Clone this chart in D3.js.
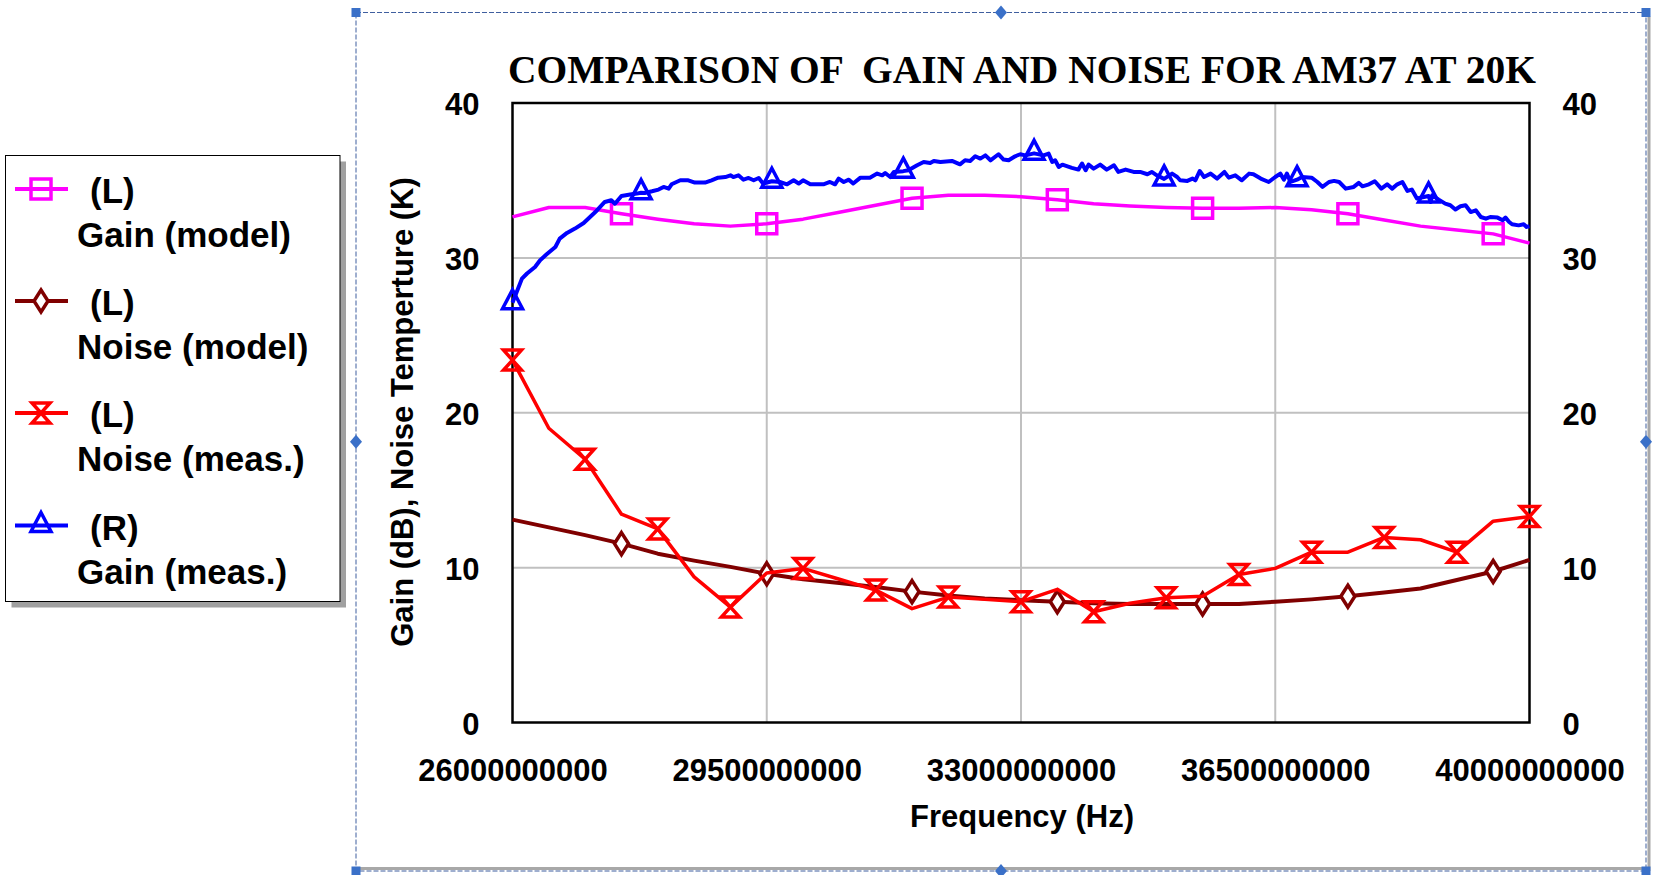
<!DOCTYPE html>
<html><head><meta charset="utf-8">
<script src="https://cdn.jsdelivr.net/npm/d3@7"></script>
<style>
body{margin:0;background:#fff;}
text{font-family:"Liberation Sans",Arial,sans-serif;font-weight:bold;fill:#000;}
</style>
</head><body>
<svg id="chart" width="1661" height="875"></svg>
<script>
// ---------------- data ----------------
const titleText = "COMPARISON OF  GAIN AND NOISE FOR AM37 AT 20K";
const xTitle = "Frequency (Hz)";
const yTitle = "Gain (dB), Noise Temperture (K)";

const xTicks = [26e9, 29.5e9, 33e9, 36.5e9, 40e9];
const xTickLabels = ["26000000000", "29500000000", "33000000000", "36500000000", "40000000000"];
const yTicks = [0, 10, 20, 30, 40];
const yTickLabels = ["0", "10", "20", "30", "40"];

const seriesNames = ["Gain (model)", "Noise (model)", "Noise (meas.)", "Gain (meas.)"];
const seriesAxis = ["(L)", "(L)", "(L)", "(R)"];

// frequency grid (GHz) for model curves and noise measurement
const modelFreqGHz = [26.0, 26.5, 27.0, 27.5, 28.0, 28.5, 29.0, 29.5, 30.0, 30.5, 31.0, 31.5, 32.0, 32.5,
  33.0, 33.5, 34.0, 34.5, 35.0, 35.5, 36.0, 36.5, 37.0, 37.5, 38.0, 38.5, 39.0, 39.5, 40.0];
const gainModel = [32.65, 33.25, 33.25, 32.85, 32.5, 32.2, 32.05, 32.2, 32.5, 32.95, 33.4, 33.85, 34.05, 34.05,
  33.95, 33.75, 33.5, 33.35, 33.25, 33.2, 33.2, 33.25, 33.1, 32.85, 32.45, 32.05, 31.8, 31.55, 30.95];
const noiseModel = [13.1, 12.6, 12.1, 11.55, 10.9, 10.45, 10.05, 9.6, 9.25, 9.0, 8.75, 8.45, 8.2, 8.0,
  7.9, 7.8, 7.7, 7.65, 7.65, 7.65, 7.65, 7.8, 7.95, 8.15, 8.4, 8.65, 9.2, 9.75, 10.5];
const noiseMeas = [23.4, 19.0, 17.0, 13.45, 12.5, 9.4, 7.45, 9.65, 9.95, 9.25, 8.55, 7.35, 8.1, 7.95,
  7.8, 8.6, 7.15, 7.7, 8.05, 8.15, 9.55, 9.95, 11.0, 11.0, 11.95, 11.8, 11.0, 13.0, 13.3];
const modelMarkerGHz = [27.5, 29.5, 31.5, 33.5, 35.5, 37.5, 39.5];
const noiseMeasMarkerGHz = [26, 27, 28, 29, 30, 31, 32, 33, 34, 35, 36, 37, 38, 39, 40];

// measured gain (right axis)
const gainMeasFreqGHz = [26.00, 26.13, 26.20, 26.31, 26.38, 26.47, 26.59, 26.65, 26.75, 26.86, 26.98, 27.14, 27.27, 27.36,
  27.41, 27.50, 27.62, 27.71, 27.77, 27.82, 27.92, 28.01, 28.08, 28.15, 28.19, 28.31, 28.42, 28.51, 28.65, 28.74,
  28.83, 28.93, 29.00, 29.04, 29.11, 29.18, 29.25, 29.32, 29.39, 29.45, 29.57, 29.68, 29.78, 29.87, 29.94, 30.00,
  30.10, 30.28, 30.37, 30.44, 30.49, 30.56, 30.63, 30.69, 30.79, 30.92, 31.02, 31.09, 31.13, 31.20, 31.25, 31.38,
  31.45, 31.57, 31.66, 31.75, 31.80, 31.89, 32.05, 32.16, 32.23, 32.30, 32.37, 32.44, 32.51, 32.58, 32.69, 32.76,
  32.83, 32.92, 32.99, 33.06, 33.18, 33.31, 33.38, 33.43, 33.47, 33.52, 33.57, 33.70, 33.79, 33.84, 33.89, 33.93,
  34.00, 34.09, 34.18, 34.28, 34.34, 34.44, 34.55, 34.64, 34.74, 34.80, 34.87, 34.97, 35.08, 35.15, 35.19, 35.29,
  35.36, 35.40, 35.46, 35.52, 35.61, 35.70, 35.80, 35.86, 35.95, 36.04, 36.14, 36.20, 36.30, 36.41, 36.50, 36.57,
  36.62, 36.66, 36.71, 36.80, 36.87, 37.00, 37.08, 37.15, 37.24, 37.31, 37.38, 37.47, 37.58, 37.65, 37.70, 37.79,
  37.87, 37.96, 38.04, 38.11, 38.18, 38.25, 38.32, 38.38, 38.45, 38.61, 38.64, 38.66, 38.75, 38.84, 38.91, 38.98,
  39.05, 39.12, 39.19, 39.26, 39.33, 39.40, 39.46, 39.56, 39.63, 39.67, 39.72, 39.76, 39.85, 39.92, 39.96, 40.00];
const gainMeas = [27.1, 28.66, 28.99, 29.41, 29.85, 30.23, 30.70, 31.24, 31.61, 31.89, 32.25, 32.96, 33.61, 33.72,
  33.50, 34.00, 34.09, 34.15, 34.20, 34.19, 34.30, 34.41, 34.58, 34.47, 34.75, 35.01, 35.01, 34.86, 34.86, 35.01,
  35.18, 35.22, 35.33, 35.22, 35.33, 35.05, 35.16, 35.01, 35.16, 34.80, 34.95, 34.90, 34.75, 35.01, 34.80, 35.01,
  34.75, 34.75, 34.90, 34.75, 35.12, 34.90, 35.05, 34.80, 35.18, 35.18, 35.44, 35.33, 35.48, 35.22, 35.55, 35.60,
  35.66, 35.98, 36.19, 36.13, 36.26, 36.19, 36.26, 36.04, 36.30, 36.26, 36.56, 36.41, 36.62, 36.30, 36.69, 36.35,
  36.30, 36.56, 36.69, 36.62, 36.75, 36.62, 36.73, 36.19, 36.30, 35.87, 36.02, 35.81, 35.70, 36.09, 35.66, 36.02,
  35.76, 36.02, 35.70, 35.98, 35.55, 35.70, 35.55, 35.55, 35.40, 35.55, 35.33, 35.10, 35.44, 35.22, 35.01, 34.97,
  35.12, 35.01, 35.61, 35.22, 35.44, 35.12, 35.55, 35.18, 35.33, 35.01, 35.44, 35.40, 35.12, 34.90, 35.22, 35.44,
  35.05, 35.44, 34.90, 35.05, 35.22, 35.18, 34.90, 34.58, 34.90, 34.97, 34.90, 34.47, 34.58, 34.84, 34.62, 34.75,
  34.95, 34.47, 34.75, 34.47, 34.75, 34.90, 34.32, 34.41, 33.83, 34.00, 33.61, 34.04, 33.76, 33.50, 33.40, 33.12,
  33.33, 33.40, 32.96, 33.07, 32.64, 32.53, 32.64, 32.60, 32.43, 32.60, 32.32, 32.17, 32.10, 32.17, 32.00, 32.04];
const gainMeasMarkerGHz = [26.00, 27.77, 29.57, 31.38, 33.18, 34.97, 36.80, 38.61];

const colors = ["#FF00FF", "#800000", "#FF0000", "#0000FF"];

// ---------------- layout ----------------
const svg = d3.select("#chart");
const plot = {left: 512.5, right: 1529.5, top: 103, bottom: 722.5};

const x = d3.scaleLinear().domain([26e9, 40e9]).range([plot.left, plot.right]);
const yL = d3.scaleLinear().domain([0, 40]).range([plot.bottom, plot.top]);
const yR = d3.scaleLinear().domain([0, 40]).range([plot.bottom, plot.top]);

svg.append("rect").attr("width", 1661).attr("height", 875).attr("fill", "#fff");

// ---- outer chart frame with selection handles ----
const frame = {l: 356, t: 12.5, r: 1646, b: 871};
svg.append("line").attr("x1", frame.r + 3).attr("x2", frame.r + 3).attr("y1", frame.t + 4).attr("y2", frame.b)
  .attr("stroke", "#a8a8a8").attr("stroke-width", 3);
svg.append("line").attr("x1", frame.l + 3).attr("x2", frame.r + 3).attr("y1", frame.b - 2.5).attr("y2", frame.b - 2.5)
  .attr("stroke", "#a8a8a8").attr("stroke-width", 3);
svg.append("rect").attr("x", frame.l).attr("y", frame.t).attr("width", frame.r - frame.l).attr("height", frame.b - frame.t)
  .attr("fill", "none").attr("stroke", "#3f5f9f").attr("stroke-width", 1).attr("stroke-dasharray", "5,2");
const corners = [[frame.l, frame.t], [frame.r, frame.t], [frame.l, frame.b], [frame.r, frame.b]];
svg.selectAll("rect.handle").data(corners).join("rect").attr("class", "handle")
  .attr("x", d => d[0] - 4.5).attr("y", d => d[1] - 4.5).attr("width", 9).attr("height", 9)
  .attr("fill", "#3a70c8");
const mids = [[(frame.l + frame.r) / 2, frame.t], [(frame.l + frame.r) / 2, frame.b], [frame.l, (frame.t + frame.b) / 2], [frame.r, (frame.t + frame.b) / 2]];
svg.selectAll("path.handle").data(mids).join("path").attr("class", "handle")
  .attr("transform", d => `translate(${d[0]},${d[1]})`).attr("d", "M0,-7L6,0L0,7L-6,0Z").attr("fill", "#3a70c8");

// ---- title ----
svg.append("text").attr("x", (plot.left + plot.right) / 2 + 1).attr("y", 83)
  .attr("text-anchor", "middle").attr("textLength", 1028).attr("lengthAdjust", "spacingAndGlyphs")
  .style("font-family", "'Liberation Serif','Times New Roman',serif").style("font-size", "39px")
  .style("white-space", "pre").text(titleText);

// ---- gridlines ----
const grid = svg.append("g");
grid.selectAll("line.h").data(yTicks.filter(d => d > 0 && d < 40)).join("line")
  .attr("x1", plot.left).attr("x2", plot.right).attr("y1", d => yL(d)).attr("y2", d => yL(d))
  .attr("stroke", "#c0c0c0").attr("stroke-width", 2);
grid.selectAll("line.v").data(xTicks.slice(1, -1)).join("line")
  .attr("y1", plot.top).attr("y2", plot.bottom).attr("x1", d => x(d)).attr("x2", d => x(d))
  .attr("stroke", "#c0c0c0").attr("stroke-width", 2);

// ---- plot border ----
svg.append("rect").attr("x", plot.left).attr("y", plot.top).attr("width", plot.right - plot.left)
  .attr("height", plot.bottom - plot.top).attr("fill", "none").attr("stroke", "#000").attr("stroke-width", 2.5);

// ---- axes ----
const fs = "31px";
const xAxis = svg.append("g").attr("transform", `translate(0,${plot.bottom})`)
  .call(d3.axisBottom(x).tickValues(xTicks).tickFormat((d, i) => xTickLabels[i]).tickSize(0));
xAxis.select(".domain").remove();
xAxis.selectAll("text").attr("y", 58).attr("dy", 0).style("font-size", fs)
  .style("font-family", "'Liberation Sans',Arial,sans-serif").style("font-weight", "bold").attr("fill", "#000");

const yAxisL = svg.append("g").attr("transform", `translate(${plot.left},0)`)
  .call(d3.axisLeft(yL).tickValues(yTicks).tickFormat((d, i) => yTickLabels[i]).tickSize(0));
yAxisL.select(".domain").remove();
yAxisL.selectAll("text").attr("x", -33).attr("y", 11.5).attr("dy", 0).style("font-size", fs)
  .style("font-family", "'Liberation Sans',Arial,sans-serif").style("font-weight", "bold").attr("fill", "#000");

const yAxisR = svg.append("g").attr("transform", `translate(${plot.right},0)`)
  .call(d3.axisRight(yR).tickValues(yTicks).tickFormat((d, i) => yTickLabels[i]).tickSize(0));
yAxisR.select(".domain").remove();
yAxisR.selectAll("text").attr("x", 33).attr("y", 11.5).attr("dy", 0).style("font-size", fs)
  .style("font-family", "'Liberation Sans',Arial,sans-serif").style("font-weight", "bold").attr("fill", "#000");

svg.append("text").attr("x", (plot.left + plot.right) / 2 + 1).attr("y", 827).attr("text-anchor", "middle")
  .style("font-size", fs).text(xTitle);
svg.append("text").attr("transform", "translate(413,412) rotate(-90)").attr("text-anchor", "middle")
  .style("font-size", fs).text(yTitle);

// ---- series ----
const markerPaths = [
  "M-10,-10H10V10H-10Z",          // square
  "M0,-11L7,0L0,11L-7,0Z",        // diamond
  "M-9,-10H9L-9,10H9Z",           // hourglass
  "M0,-13L10,6H-10Z"              // triangle
];
const markerFill = ["none", "#fff", "none", "none"];

const gm = modelFreqGHz.map((f, i) => ({f: f * 1e9, v: gainModel[i]}));
const nm = modelFreqGHz.map((f, i) => ({f: f * 1e9, v: noiseModel[i]}));
const nmeas = modelFreqGHz.map((f, i) => ({f: f * 1e9, v: noiseMeas[i]}));
const gmeas = gainMeasFreqGHz.map((f, i) => ({f: f * 1e9, v: gainMeas[i]}));

const series = [
  {data: gm, y: yL, markers: modelMarkerGHz, width: 3.5},
  {data: nm, y: yL, markers: modelMarkerGHz, width: 4},
  {data: nmeas, y: yL, markers: noiseMeasMarkerGHz, width: 3.5},
  {data: gmeas, y: yR, markers: gainMeasMarkerGHz, width: 4}
];

series.forEach((s, k) => {
  const line = d3.line().x(d => x(d.f)).y(d => s.y(d.v));
  svg.append("path").datum(s.data).attr("d", line).attr("fill", "none")
    .attr("stroke", colors[k]).attr("stroke-width", s.width).attr("stroke-linejoin", "round");
  const pts = s.data.filter(d => s.markers.some(m => Math.abs(m * 1e9 - d.f) < 1e6));
  svg.selectAll(null).data(pts).join("path")
    .attr("transform", d => `translate(${x(d.f)},${s.y(d.v)})`)
    .attr("d", markerPaths[k]).attr("fill", markerFill[k])
    .attr("stroke", colors[k]).attr("stroke-width", 3.5).attr("stroke-linejoin", "miter");
});

// ---- legend ----
const lg = svg.append("g");
lg.append("rect").attr("x", 11.5).attr("y", 161.5).attr("width", 334.5).attr("height", 446).attr("fill", "#a0a0a0");
lg.append("rect").attr("x", 5.5).attr("y", 155.5).attr("width", 334.5).attr("height", 446)
  .attr("fill", "#fff").attr("stroke", "#000").attr("stroke-width", 1);
const legendY = [189, 301, 413, 525.5];
seriesNames.forEach((name, k) => {
  const yy = legendY[k];
  lg.append("line").attr("x1", 15).attr("x2", 68).attr("y1", yy).attr("y2", yy)
    .attr("stroke", colors[k]).attr("stroke-width", 4);
  lg.append("path").attr("transform", `translate(41,${yy})`).attr("d", markerPaths[k])
    .attr("fill", markerFill[k]).attr("stroke", colors[k]).attr("stroke-width", 3.5);
  lg.append("text").attr("x", 90).attr("y", yy + 14).style("font-size", "35px").text(seriesAxis[k]);
  lg.append("text").attr("x", 77).attr("y", yy + 58).style("font-size", "35px").text(name);
});
</script>
</body></html>
